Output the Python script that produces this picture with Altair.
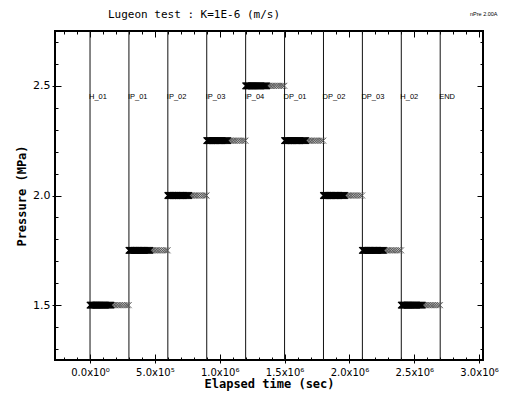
import json
import altair as alt
import pandas as pd

# ---------------- data ----------------
step_labels = ["H_01", "IP_01", "IP_02", "IP_03", "IP_04", "DP_01", "DP_02", "DP_03", "H_02", "END"]
step_starts = [0, 300000, 600000, 900000, 1200000, 1500000, 1800000, 2100000, 2400000, 2700000]
step_pressure = [1.5, 1.75, 2.0, 2.25, 2.5, 2.25, 2.0, 1.75, 1.5]
dense_offsets = [0, 5000, 10000, 15000, 20000, 25000, 30000, 35000, 40000, 45000,
                 50000, 55000, 60000, 66000, 72000, 78000, 84000, 90000, 96000,
                 102000, 108000, 114000, 120000, 127000, 134000, 141000, 148000,
                 155000, 162000]
tail_offsets = [172000, 183000, 194000, 206000, 218000, 231000, 244000, 258000,
                272000, 286000, 298000]
xtick_values = [0, 500000, 1000000, 1500000, 2000000, 2500000, 3000000]
xtick_labels = ["0.0x10⁰", "5.0x10⁵", "1.0x10⁶", "1.5x10⁶", "2.0x10⁶", "2.5x10⁶", "3.0x10⁶"]
ytick_values = [1.5, 2.0, 2.5]
label_level = 2.45
title_text = "Lugeon test : K=1E-6 (m/s)"
version_text = "nPre 2.00A"

dense = pd.DataFrame(
    [{"t": s + o, "p": p} for s, p in zip(step_starts, step_pressure) for o in dense_offsets]
)
tail = pd.DataFrame(
    [{"t": s + o, "p": p} for s, p in zip(step_starts, step_pressure) for o in tail_offsets]
)
steps = pd.DataFrame({"t": step_starts, "label": step_labels})

W, H = 428, 329
x_dom = [-270000, 3030000]
y_dom = [1.25, 2.75]


def xs():
    return alt.Scale(domain=x_dom, nice=False, zero=False)


def ys():
    return alt.Scale(domain=y_dom, nice=False, zero=False)


x_minor = [v * 100000 for v in range(-2, 31)]
y_minor = [round(1.3 + 0.1 * i, 2) for i in range(15)]
x_size = {"condition": {"test": "datum.value % 500000 === 0", "value": 6}, "value": 3}
y_size = {"condition": {"test": "round(datum.value * 10) % 5 === 0", "value": 6}, "value": 3}

label_expr = f"{json.dumps(xtick_labels, ensure_ascii=False)}[indexof({json.dumps(xtick_values)}, datum.value)]"

x_main = alt.X(
    "t:Q", scale=xs(),
    axis=alt.Axis(values=xtick_values, labelExpr=label_expr, title="Elapsed time (sec)",
                  grid=False, domain=False, ticks=True, tickSize=3, tickColor="black",
                  labelFont="DejaVu Sans", labelFontSize=10, labelColor="black",
                  labelFlush=False, labelOverlap=False, labelPadding=4,
                  titleFont="DejaVu Sans Mono", titleFontSize=12, titleFontWeight="bold",
                  titleColor="black", titlePadding=1),
)
y_main = alt.Y(
    "p:Q", scale=ys(),
    axis=alt.Axis(values=ytick_values, format=".1f", title="Pressure (MPa)",
                  grid=False, domain=False, ticks=True, tickSize=3, tickColor="black",
                  labelFont="DejaVu Sans", labelFontSize=11, labelColor="black",
                  labelFlush=False, labelPadding=2,
                  titleFont="DejaVu Sans Mono", titleFontSize=12, titleFontWeight="bold",
                  titleColor="black", titlePadding=4),
)

xshape = "M-1,-1L1,1M-1,1L1,-1"

points = alt.Chart(dense).mark_point(
    shape=xshape, filled=False, stroke="black", strokeWidth=1.2, size=42, opacity=1
).encode(x=x_main, y=y_main)

tail_pts = alt.Chart(tail).mark_point(
    shape=xshape, filled=False, stroke="#555555", strokeWidth=0.9, size=36, opacity=1
).encode(x=alt.X("t:Q", scale=xs()), y=alt.Y("p:Q", scale=ys()))

rules = alt.Chart(steps).mark_rule(color="#111111", strokeWidth=1).encode(
    x=alt.X("t:Q", scale=xs())
)

step_text = alt.Chart(steps).mark_text(
    align="left", baseline="middle", dx=-1, font="Liberation Sans", fontSize=7.5, color="black"
).encode(x=alt.X("t:Q", scale=xs()), y=alt.datum(label_level), text="label:N")

title_mark = alt.Chart(pd.DataFrame({"s": [title_text]})).mark_text(
    align="center", baseline="middle", font="DejaVu Sans Mono", fontSize=11, color="black"
).encode(x=alt.value(139), y=alt.value(-16), text="s:N")

version_mark = alt.Chart(pd.DataFrame({"s": [version_text]})).mark_text(
    align="left", baseline="middle", font="Liberation Sans", fontSize=5.5, color="black"
).encode(x=alt.value(415), y=alt.value(-17), text="s:N")

main = alt.layer(rules, tail_pts, points, step_text, title_mark, version_mark)

# inward ticks on bottom and left edges
in_bl = alt.Chart(steps).mark_point(opacity=0).encode(
    x=alt.X("t:Q", scale=xs(),
            axis=alt.Axis(orient="top", offset=-H, values=x_minor, labels=False, domain=False,
                          grid=False, title=None, tickSize=x_size, tickColor="black", tickWidth=1)),
    y=alt.Y("p:Q", scale=ys(),
            axis=alt.Axis(orient="right", offset=-W, values=y_minor, labels=False, domain=False,
                          grid=False, title=None, tickSize=y_size, tickColor="black", tickWidth=1)),
)
# inward ticks on top and right edges
in_tr = alt.Chart(steps).mark_point(opacity=0).encode(
    x=alt.X("t:Q", scale=xs(),
            axis=alt.Axis(orient="bottom", offset=-H, values=x_minor, labels=False, domain=False,
                          grid=False, title=None, tickSize=x_size, tickColor="black", tickWidth=1)),
    y=alt.Y("p:Q", scale=ys(),
            axis=alt.Axis(orient="left", offset=-W, values=y_minor, labels=False, domain=False,
                          grid=False, title=None, tickSize=y_size, tickColor="black", tickWidth=1)),
)

chart = alt.layer(main, in_bl, in_tr).resolve_scale(
    x="independent", y="independent"
).properties(
    width=W, height=H,
    autosize=alt.AutoSizeParams(type="none"),
    padding={"left": 47, "top": 23, "right": 16, "bottom": 32},
    background="white",
).configure_view(stroke="black", strokeWidth=2)

chart.save("out.html", embed_options={"renderer": "svg", "actions": False})
